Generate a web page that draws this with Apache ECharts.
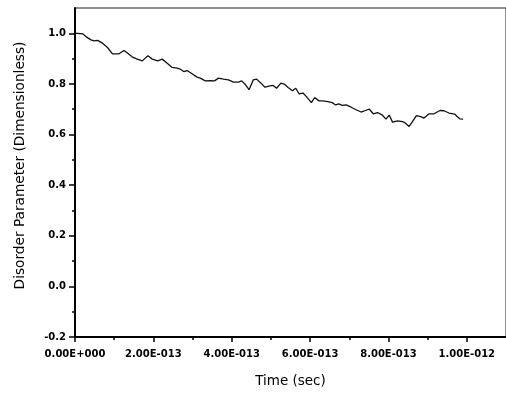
<!DOCTYPE html>
<html>
<head>
<meta charset="utf-8">
<script src="https://cdn.jsdelivr.net/npm/echarts@6/dist/echarts.min.js"></script>
<style>
  html, body { margin: 0; padding: 0; background: #fff; }
  #chart { width: 506px; height: 393px; }
</style>
</head>
<body>
<div id="chart"></div>
<script>
// Simulation time in femtoseconds (1 fs = 1E-015 s)
const timeFs = [
  0, 6.9, 19.5, 27.9, 40.6, 49.0, 57.6, 70.3, 83.0, 95.7,
  112.4, 125.1, 133.8, 146.4, 159.1, 171.8, 186.0, 197.2, 211.4, 222.6,
  235.3, 248.0, 260.7, 269.0, 277.4, 286.0, 298.7, 311.4, 319.8, 332.5,
  345.2, 356.1, 366.2, 378.9, 391.6, 404.3, 417.0, 425.6, 434.0, 444.2,
  455.1, 463.7, 474.6, 484.8, 497.5, 505.8, 514.5, 525.4, 535.5, 543.9,
  555.1, 563.5, 571.8, 582.0, 590.6, 603.3, 611.7, 622.6, 632.7, 645.4,
  656.6, 665.0, 673.4, 682.0, 692.1, 704.8, 717.5, 730.2, 741.1, 751.3,
  761.4, 772.3, 783.5, 793.7, 802.0, 810.4, 823.1, 835.8, 841.9, 852.8,
  861.2, 871.3, 882.5, 890.9, 903.6, 916.2, 931.5, 941.6, 954.3, 968.8,
  975.4, 982.2, 990.6
];

// Disorder parameter (dimensionless)
const disorder = [
  1.000, 1.000, 0.998, 0.987, 0.974, 0.970, 0.972, 0.961, 0.944, 0.919,
  0.919, 0.932, 0.922, 0.906, 0.898, 0.891, 0.911, 0.898, 0.891, 0.898,
  0.882, 0.865, 0.862, 0.858, 0.849, 0.853, 0.840, 0.827, 0.823, 0.812,
  0.813, 0.812, 0.823, 0.819, 0.816, 0.807, 0.807, 0.812, 0.799, 0.777,
  0.816, 0.819, 0.803, 0.787, 0.792, 0.794, 0.783, 0.803, 0.798, 0.786,
  0.773, 0.783, 0.761, 0.764, 0.750, 0.726, 0.746, 0.733, 0.733, 0.730,
  0.726, 0.717, 0.721, 0.715, 0.717, 0.708, 0.698, 0.689, 0.695, 0.700,
  0.682, 0.687, 0.678, 0.661, 0.677, 0.649, 0.654, 0.651, 0.647, 0.632,
  0.651, 0.675, 0.671, 0.665, 0.682, 0.682, 0.695, 0.694, 0.685, 0.681,
  0.671, 0.662, 0.661
];

// Axis tick positions (x in fs)
const xMajorTicks = [0, 200, 400, 600, 800, 1000];
const xMinorTicks = [100, 300, 500, 700, 900];
const yMajorTicks = [-0.2, 0.0, 0.2, 0.4, 0.6, 0.8, 1.0];
const yMinorTicks = [-0.1, 0.1, 0.3, 0.5, 0.7, 0.9];

const X_MIN = 0, X_MAX = 1100;
const Y_MIN = -0.2, Y_MAX = 1.1;

// "2.00E-013" style scientific labels from a time in fs
function sciLabel(fs) {
  const s = (fs * 1e-15).toExponential(2);
  const parts = s.split('e');
  const sign = parts[1][0];
  const digits = parts[1].slice(1).padStart(3, '0');
  return parts[0] + 'E' + sign + digits;
}

const labelFont = {
  fontFamily: 'DejaVu Sans',
  fontWeight: 'bold',
  fontSize: 10,
  color: '#000'
};

const chart = echarts.init(document.getElementById('chart'), null, { renderer: 'canvas' });

chart.setOption({
  animation: false,
  backgroundColor: '#fff',
  grid: {
    left: 75, right: -3, top: 8, bottom: 56,
    show: true, borderColor: '#222', borderWidth: 1,
    backgroundColor: 'transparent'
  },
  xAxis: [
    {
      type: 'value', min: X_MIN, max: X_MAX, position: 'bottom',
      axisLine: { onZero: false, lineStyle: { color: '#000', width: 2 } },
      axisTick: { length: 5, customValues: xMajorTicks, lineStyle: { color: '#000', width: 1.5 } },
      axisLabel: Object.assign({ margin: 12, customValues: xMajorTicks, formatter: sciLabel }, labelFont),
      splitLine: { show: false },
      name: 'Time (sec)', nameLocation: 'middle', nameGap: 37,
      nameTextStyle: { fontFamily: 'DejaVu Sans', fontSize: 13.5, color: '#000' }
    },
    {
      type: 'value', min: X_MIN, max: X_MAX, position: 'bottom', offset: 0,
      axisLine: { show: false, onZero: false },
      axisTick: { length: 3, customValues: xMinorTicks, lineStyle: { color: '#000', width: 1.5 } },
      axisLabel: { show: false },
      splitLine: { show: false }
    }
  ],
  yAxis: [
    {
      type: 'value', min: Y_MIN, max: Y_MAX, position: 'left',
      axisLine: { onZero: false, lineStyle: { color: '#000', width: 2 } },
      axisTick: { length: 6, customValues: yMajorTicks, lineStyle: { color: '#000', width: 1.5 } },
      axisLabel: Object.assign({ margin: 9, customValues: yMajorTicks, formatter: v => v.toFixed(1) }, labelFont),
      splitLine: { show: false },
      name: 'Disorder Parameter (Dimensionless)', nameLocation: 'middle', nameGap: 48,
      nameTextStyle: { fontFamily: 'DejaVu Sans', fontSize: 13.7, color: '#000', padding: [0, 0, 0, 14] }
    },
    {
      type: 'value', min: Y_MIN, max: Y_MAX, position: 'left', offset: 0,
      axisLine: { show: false, onZero: false },
      axisTick: { length: 3, customValues: yMinorTicks, lineStyle: { color: '#000', width: 1.5 } },
      axisLabel: { show: false },
      splitLine: { show: false }
    }
  ],
  series: [
    {
      type: 'line',
      xAxisIndex: 0, yAxisIndex: 0,
      data: timeFs.map((t, i) => [t, disorder[i]]),
      showSymbol: false,
      symbol: 'none',
      lineStyle: { color: '#111', width: 1.3 },
      silent: true
    }
  ]
});
</script>
</body>
</html>
